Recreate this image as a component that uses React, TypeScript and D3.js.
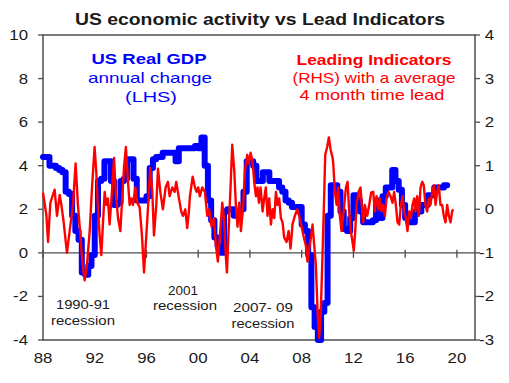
import React from 'react';
import * as d3 from 'd3';

// US Real GDP, annual % change, quarterly from 1988 Q1 (LHS)
const gdpStartYear = 1988;
const gdpQuarterly = [
  4.4, 4.4, 4.0, 4.0,
  3.9, 3.8, 3.7, 2.8,
  2.7, 1.7, 1.0, 0.6,
  -0.9, -1.0, -0.6, -0.1,
  1.7, 3.3, 3.4, 4.2,
  4.2, 3.3, 2.2, 2.3,
  3.3, 3.4, 4.3, 4.3,
  3.4, 2.4, 2.4, 2.4,
  2.6, 3.9, 4.3, 4.4,
  4.4, 4.6, 4.6, 4.6,
  4.6, 4.2, 4.8, 4.8,
  4.8, 4.8, 4.8, 4.9,
  4.8, 5.3, 4.0, 2.4,
  1.5, 0.7, 0.3, 0.0,
  1.9, 2.0, 2.0, 1.7,
  1.7, 2.0, 2.8, 4.2,
  4.2, 4.0, 3.3, 3.3,
  3.7, 3.7, 3.3, 3.3,
  3.3, 3.0, 2.8, 2.4,
  2.3, 2.1, 2.1, 2.1,
  1.3, 1.0, -0.1, -2.5,
  -3.4, -4.0, -2.7, -2.3,
  1.7, 3.1, 3.1, 2.8,
  1.9, 1.1, 1.0, 1.6,
  2.65, 2.4, 1.9, 1.4,
  1.4, 1.4, 1.5, 2.4,
  1.6, 2.6, 3.0, 3.0,
  3.8, 3.3, 2.9, 2.2,
  1.6, 1.4, 1.4, 1.9,
  1.9, 2.2, 2.2, 2.65,
  2.65, 3.0, 3.0, 3.0,
  3.1,
];

// Leading indicators (RHS), dates as decimal years
const leadYears = [
  1988.00, 1988.26, 1988.39, 1988.57, 1988.90, 1989.08, 1989.29, 1989.42, 1989.60, 1989.85,
  1990.06, 1990.32, 1990.52, 1990.70, 1990.89, 1991.04, 1991.22, 1991.40, 1991.61, 1991.79,
  1991.99, 1992.12, 1992.25, 1992.38, 1992.51, 1992.64, 1992.77, 1992.89, 1993.02, 1993.15,
  1993.33, 1993.49, 1993.62, 1993.80, 1993.98, 1994.13, 1994.26, 1994.41, 1994.57, 1994.70,
  1994.83, 1994.96, 1995.14, 1995.29, 1995.47, 1995.65, 1995.81, 1995.99, 1996.14, 1996.29,
  1996.45, 1996.58, 1996.76, 1996.89, 1997.07, 1997.27, 1997.48, 1997.66, 1997.79, 1997.99,
  1998.18, 1998.30, 1998.51, 1998.69, 1998.82, 1999.00, 1999.15, 1999.28, 1999.36, 1999.57,
  1999.75, 1999.88, 2000.00, 2000.13, 2000.31, 2000.52, 2000.70, 2000.85, 2001.03, 2001.21,
  2001.37, 2001.52, 2001.68, 2001.86, 2001.99, 2002.12, 2002.22, 2002.37, 2002.50, 2002.63,
  2002.79, 2002.91, 2003.04, 2003.17, 2003.30, 2003.48, 2003.61, 2003.79, 2003.92, 2004.05,
  2004.20, 2004.33, 2004.46, 2004.59, 2004.69, 2004.82, 2004.98, 2005.10, 2005.23, 2005.36,
  2005.49, 2005.62, 2005.75, 2005.88, 2006.01, 2006.13, 2006.26, 2006.39, 2006.52, 2006.65,
  2006.83, 2006.99, 2007.14, 2007.29, 2007.47, 2007.65, 2007.81, 2007.99, 2008.17, 2008.32,
  2008.45, 2008.58, 2008.71, 2008.84, 2008.97, 2009.10, 2009.23, 2009.35, 2009.48, 2009.61,
  2009.72, 2009.82, 2009.97, 2010.10, 2010.23, 2010.39, 2010.44, 2010.57, 2010.70, 2010.82,
  2010.95, 2011.08, 2011.26, 2011.42, 2011.55, 2011.67, 2011.80, 2011.93, 2012.03, 2012.14,
  2012.24, 2012.40, 2012.55, 2012.65, 2012.76, 2012.88, 2013.07, 2013.22, 2013.37, 2013.53,
  2013.66, 2013.79, 2013.94, 2014.04, 2014.17, 2014.30, 2014.43, 2014.56, 2014.71, 2014.87,
  2015.02, 2015.15, 2015.28, 2015.41, 2015.54, 2015.67, 2015.80, 2015.92, 2016.05, 2016.18,
  2016.31, 2016.44, 2016.57, 2016.70, 2016.80, 2016.93, 2017.06, 2017.19, 2017.32, 2017.44,
  2017.57, 2017.70, 2017.83, 2017.96, 2018.09, 2018.22, 2018.35, 2018.47, 2018.60, 2018.73,
  2018.86, 2018.99, 2019.12, 2019.25, 2019.38, 2019.51, 2019.63, 2019.71,
];
const leadValues = [
  0.38, -0.13, -0.75, 0.15, 0.45, -0.15, 0.33, 0.10, -0.30, -1.00,
  -0.50, 0.10, 1.05, 0.10, -0.60, -1.20, -1.63, -1.28, -0.50, 0.50,
  1.43, 0.85, 0.00, -0.60, -1.05, -0.30, 0.40, 0.10, 0.25, -0.35,
  0.40, 1.18, 0.40, -0.20, -0.50, 0.30, 0.95, 1.43, 0.63, 0.10,
  0.25, 0.10, 0.50, 0.15, 0.05, -0.60, -1.45, -0.60, 0.15, 0.95,
  0.40, -0.60, 0.10, 0.93, 0.40, 0.00, 0.50, 0.63, 0.30, 0.50,
  0.40, 0.63, 0.25, -0.05, -0.15, 0.00, -0.43, -0.05, 0.30, 0.75,
  0.50, 0.40, 0.50, 0.30, 0.50, 0.40, -0.15, 0.00, -0.40, -0.20,
  -0.83, -1.20, -0.60, 0.15, -0.20, -1.00, -1.45, -0.35, 0.50, 1.48,
  0.88, 0.10, -0.40, 0.15, -0.50, 0.10, 0.88, 1.25, 1.05, 1.30,
  1.10, 0.63, 0.30, 0.50, 0.15, 0.50, -0.05, 0.25, 0.50, -0.15,
  0.25, -0.35, 0.00, -0.20, 0.40, 0.10, 0.25, -0.20, -0.30, -0.65,
  -0.75, -0.50, -0.90, -0.35, -0.15, 0.00, -0.15, -0.40, -0.65, -0.83,
  -1.20, -0.90, -0.65, -0.35, -0.83, -1.30, -2.35, -2.95, -2.35, -1.05,
  0.10, 1.25, 1.43, 1.65, 1.38, 1.18, 1.05, 0.40, 0.10, 0.50,
  -0.15, -0.50, 0.00, 0.50, 0.63, -0.05, -0.50, -0.75, -0.95, -0.50,
  0.10, 0.40, 0.50, 0.10, -0.30, 0.10, -0.15, 0.10, 0.38, 0.40,
  -0.05, 0.30, 0.00, 0.25, -0.05, 0.10, -0.15, 0.25, 0.40, 0.30,
  0.15, 0.40, 0.10, -0.30, -0.35, 0.10, 0.30, -0.05, -0.20, -0.50,
  -0.05, -0.20, 0.10, 0.25, -0.05, 0.30, -0.15, 0.50, 0.63, 0.55,
  0.10, -0.05, 0.25, 0.10, 0.40, 0.55, 0.10, 0.40, 0.55, 0.10,
  0.10, -0.15, -0.30, 0.10, -0.15, -0.30, -0.05, 0.00,
];

const xTickYears = [1988, 1992, 1996, 2000, 2004, 2008, 2012, 2016, 2020];
const xTickLabels = ['88', '92', '96', '00', '04', '08', '12', '16', '20'];
const leftTicks = [-4, -2, 0, 2, 4, 6, 8, 10];
const rightTicks = [-3, -2, -1, 0, 1, 2, 3, 4];

const FONT = "'Liberation Sans', Arial, sans-serif";
const AXIS = '#4d4d4d';
const TXT = '#1a1a1a';

export default function App() {
  const W = 509, H = 383;
  const left = 43, right = 475, top = 35, bottom = 340;
  const x = d3.scaleLinear().domain([1988, 2021.4]).range([left, right]);
  const yL = d3.scaleLinear().domain([-4, 10]).range([bottom, top]);
  const yR = d3.scaleLinear().domain([-3, 4]).range([bottom, top]);

  const gdpPts: [number, number][] = [];
  gdpQuarterly.forEach((v, i) => {
    const t = gdpStartYear + i / 4;
    gdpPts.push([t, v]);
    gdpPts.push([t + 0.25, v]);
  });
  const gdpPath = d3.line<[number, number]>()
    .x(d => x(d[0]))
    .y(d => yL(d[1]))(gdpPts) || '';

  const leadPts = leadYears.map((t, i) => [t, leadValues[i]] as [number, number]);
  const leadPath = d3.line<[number, number]>()
    .x(d => x(d[0]))
    .y(d => yR(d[1]))(leadPts) || '';

  const y0 = yL(0);
  const sx = 1.2;

  return (
    <div style={{ position: 'fixed', left: 0, top: 0 }}>
      <svg width={W} height={H} style={{ display: 'block', background: '#fff' }} fontFamily={FONT}>
        {/* title */}
        <text x={260} y={25} textAnchor="middle" fontSize={16} fontWeight="bold" fill={TXT}
          textLength={370} lengthAdjust="spacingAndGlyphs">US economic activity  vs Lead Indicators</text>

        {/* frame */}
        <rect x={left} y={top} width={right - left} height={bottom - top} fill="none" stroke={AXIS} strokeWidth={1.5} />
        {/* zero line */}
        <line x1={left} x2={right} y1={y0} y2={y0} stroke={AXIS} strokeWidth={1.3} />
        {xTickYears.map(t => (
          <line key={'xt' + t} x1={x(t)} x2={x(t)} y1={y0 - 3} y2={y0 + 5} stroke={AXIS} strokeWidth={1.3} />
        ))}

        {/* left ticks */}
        {leftTicks.map(v => (
          <g key={'l' + v}>
            <line x1={left - 5} x2={left} y1={yL(v)} y2={yL(v)} stroke={AXIS} strokeWidth={1.3} />
            <text transform={`translate(28,${yL(v) + 5}) scale(${sx},1)`} textAnchor="end" fontSize={14} fill={TXT}>{v}</text>
          </g>
        ))}
        {/* right ticks */}
        {rightTicks.map(v => (
          <g key={'r' + v}>
            <line x1={right} x2={right + 5} y1={yR(v)} y2={yR(v)} stroke={AXIS} strokeWidth={1.3} />
            <text transform={`translate(494,${yR(v) + 5}) scale(${sx},1)`} textAnchor="end" fontSize={14} fill={TXT}>{v}</text>
          </g>
        ))}
        {/* x labels */}
        {xTickYears.map((t, i) => (
          <text key={'xl' + t} transform={`translate(${x(t)},363) scale(${sx},1)`} textAnchor="middle" fontSize={14} fill={TXT}>{xTickLabels[i]}</text>
        ))}

        {/* series */}
        <path d={gdpPath} fill="none" stroke="#0000ff" strokeWidth={6} strokeLinejoin="round" strokeLinecap="round" />
        <path d={leadPath} fill="none" stroke="#ff0000" strokeWidth={2.4} strokeLinejoin="round" />

        {/* annotations */}
        <text x={149} y={64} textAnchor="middle" fontSize={15} fontWeight="bold" fill="#0000ff" textLength={115} lengthAdjust="spacingAndGlyphs">US Real GDP</text>
        <text x={150} y={83} textAnchor="middle" fontSize={15} fill="#0000ff" textLength={124} lengthAdjust="spacingAndGlyphs">annual change</text>
        <text x={151} y={102} textAnchor="middle" fontSize={15} fill="#0000ff" textLength={52} lengthAdjust="spacingAndGlyphs">(LHS)</text>

        <text x={374} y={65} textAnchor="middle" fontSize={15} fontWeight="bold" fill="#ff0000" textLength={155} lengthAdjust="spacingAndGlyphs">Leading Indicators</text>
        <text x={374} y={83} textAnchor="middle" fontSize={15} fill="#ff0000" textLength={163} lengthAdjust="spacingAndGlyphs">(RHS) with a average</text>
        <text x={372} y={100} textAnchor="middle" fontSize={15} fill="#ff0000" textLength={145} lengthAdjust="spacingAndGlyphs">4 month time lead</text>

        <text x={83} y={309} textAnchor="middle" fontSize={13.5} fill={TXT} textLength={54} lengthAdjust="spacingAndGlyphs">1990-91</text>
        <text x={83} y={325} textAnchor="middle" fontSize={13.5} fill={TXT} textLength={64} lengthAdjust="spacingAndGlyphs">recession</text>
        <text x={183} y={295} textAnchor="middle" fontSize={13.5} fill={TXT} textLength={30} lengthAdjust="spacingAndGlyphs">2001</text>
        <text x={185} y={310} textAnchor="middle" fontSize={13.5} fill={TXT} textLength={64} lengthAdjust="spacingAndGlyphs">recession</text>
        <text x={263} y={312} textAnchor="middle" fontSize={13.5} fill={TXT} textLength={60} lengthAdjust="spacingAndGlyphs">2007-  09</text>
        <text x={263} y={328} textAnchor="middle" fontSize={13.5} fill={TXT} textLength={63} lengthAdjust="spacingAndGlyphs">recession</text>
      </svg>
    </div>
  );
}
